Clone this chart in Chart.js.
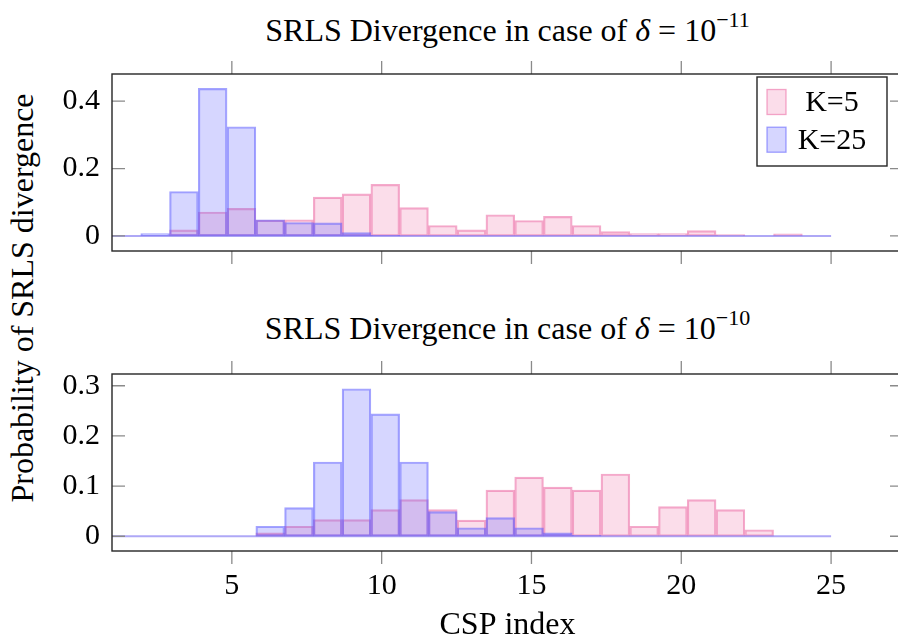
<!DOCTYPE html>
<html>
<head>
<meta charset="utf-8">
<script src="https://cdn.jsdelivr.net/npm/chart.js@4.4.1/dist/chart.umd.min.js"></script>
<style>
  html, body { margin: 0; padding: 0; background: #fff; overflow: hidden; }
  #wrap { position: relative; width: 898px; height: 642px; overflow: hidden;
          font-family: 'Liberation Serif', 'Times New Roman', 'DejaVu Serif', serif; color: #000; }
  .ttl { position: absolute; left: 112px; width: 791px; text-align: center;
         font-size: 32px; line-height: 36px; white-space: nowrap; }
  .ttl sup { font-size: 22px; vertical-align: 0; position: relative; top: -14px; }
  #ylab { position: absolute; left: 22px; top: 298px; font-size: 32px; white-space: nowrap;
          transform: translate(-50%, -50%) rotate(-90deg); }
  canvas { position: absolute; left: 0; }
</style>
</head>
<body>
<div id="wrap">
  <div class="ttl" style="top:12px">SRLS Divergence in case of <i>δ</i> = 10<sup>−11</sup></div>
  <div class="ttl" style="top:310px">SRLS Divergence in case of <i>δ</i> = 10<sup>−10</sup></div>
  <div id="ylab">Probability of SRLS divergence</div>
  <canvas id="topChart" width="910" height="281" style="top:0"></canvas>
  <canvas id="botChart" width="910" height="342" style="top:300px"></canvas>
</div>
<script>
// histogram bins (25 bins over [1, 25])
const histMin = 1;
const histMax = 25;
const binCenters = [1.48, 2.44, 3.40, 4.36, 5.32, 6.28, 7.24, 8.20, 9.16, 10.12, 11.08, 12.04, 13.00,
                    13.96, 14.92, 15.88, 16.84, 17.80, 18.76, 19.72, 20.68, 21.64, 22.60, 23.56, 24.52];

// delta = 1e-11
const k5Top  = [0, 0, 0.018, 0.071, 0.082, 0.047, 0.048, 0.115, 0.125, 0.153, 0.084, 0.031, 0.018,
                0.063, 0.046, 0.058, 0.031, 0.013, 0.007, 0.007, 0.016, 0.004, 0, 0.006, 0];
const k25Top = [0, 0.007, 0.132, 0.438, 0.324, 0.048, 0.040, 0.039, 0.010, 0.003, 0, 0, 0,
                0, 0, 0, 0, 0, 0, 0, 0, 0, 0, 0, 0];

// delta = 1e-10
const k5Bot  = [0, 0, 0, 0, 0, 0.007, 0.020, 0.033, 0.033, 0.053, 0.073, 0.053, 0.032,
                0.092, 0.118, 0.098, 0.092, 0.124, 0.020, 0.059, 0.073, 0.053, 0.013, 0, 0];
const k25Bot = [0, 0, 0, 0, 0, 0.020, 0.057, 0.148, 0.294, 0.244, 0.148, 0.049, 0.017,
                0.037, 0.017, 0.007, 0.002, 0, 0, 0, 0, 0, 0, 0, 0];

const xTicks = [5, 10, 15, 20, 25];
const yTicksTop = [0, 0.2, 0.4];
const yTicksBot = [0, 0.1, 0.2, 0.3];
const seriesLabels = ['K=5', 'K=25'];

const FONT = { family: "'Liberation Serif', 'Times New Roman', 'DejaVu Serif', serif", size: 30 };
const pinkFill = 'rgba(235,100,160,0.22)', pinkLine = 'rgba(235,100,160,0.55)';
const blueFill = 'rgba(90,90,255,0.25)',  blueLine = 'rgba(90,90,255,0.55)';

// box round the plot, inward y ticks, outward x ticks
const framePlugin = {
    id: 'frame',
    afterDatasetsDraw(chart) {
        const { ctx, chartArea: a, scales: { x, y } } = chart;
        ctx.save();
        ctx.strokeStyle = '#8a8a8a';
        ctx.lineWidth = 1.3;
        ctx.beginPath();
        y.ticks.forEach(t => {
            const py = y.getPixelForValue(t.value);
            ctx.moveTo(a.left, py);  ctx.lineTo(a.left + 13, py);
            ctx.moveTo(a.right, py); ctx.lineTo(a.right - 13, py);
        });
        x.ticks.forEach(t => {
            const px = x.getPixelForValue(t.value);
            ctx.moveTo(px, a.top);    ctx.lineTo(px, a.top - 13);
            ctx.moveTo(px, a.bottom); ctx.lineTo(px, a.bottom + 13);
        });
        ctx.stroke();
        ctx.strokeStyle = '#262626';
        ctx.lineWidth = 1.4;
        ctx.strokeRect(a.left, a.top, a.right - a.left, a.bottom - a.top);
        ctx.restore();
    }
};

// framed legend in the top right corner
const legendBox = {
    id: 'legendBox',
    afterDraw(chart, args, opts) {
        if (!opts.show) return;
        const { ctx, chartArea: a } = chart;
        const items = chart.data.datasets.filter(d => d.label);
        const w = 130, h = 89;
        const x0 = a.right - 16 - w, y0 = a.top + 3;
        ctx.save();
        ctx.fillStyle = '#fff';
        ctx.fillRect(x0, y0, w, h);
        ctx.strokeStyle = '#262626';
        ctx.lineWidth = 1.4;
        ctx.strokeRect(x0, y0, w, h);
        items.forEach((d, i) => {
            const cy = y0 + 25 + i * 37.7;
            ctx.fillStyle = d.backgroundColor;
            ctx.fillRect(x0 + 10, cy - 12.5, 19, 25);
            ctx.strokeStyle = d.borderColor;
            ctx.lineWidth = 1.3;
            ctx.strokeRect(x0 + 10, cy - 12.5, 19, 25);
            ctx.fillStyle = '#000';
            ctx.font = `${FONT.size}px ${FONT.family}`;
            ctx.textAlign = 'center';
            ctx.textBaseline = 'middle';
            ctx.fillText(d.label, x0 + 75, cy + 1);
        });
        ctx.restore();
    }
};

function barSet(label, vals, fill, line, order) {
    return {
        type: 'bar',
        label: label,
        data: binCenters.map((c, i) => ({ x: c, y: vals[i] })),
        backgroundColor: fill,
        borderColor: line,
        borderWidth: 1.5,
        borderSkipped: false,
        barPercentage: 1,
        categoryPercentage: 1,
        grouped: false,
        order: order
    };
}

function makeChart(id, k5, k25, yMin, yMax, yTicks, bottom) {
    return new Chart(document.getElementById(id), {
        type: 'bar',
        data: {
            datasets: [
                barSet(seriesLabels[0], k5, pinkFill, pinkLine, 3),
                barSet(seriesLabels[1], k25, blueFill, blueLine, 2),
                {
                    type: 'line',
                    data: [{ x: histMin, y: 0 }, { x: histMax, y: 0 }],
                    borderColor: 'rgba(120,110,240,0.6)',
                    borderWidth: 2,
                    pointRadius: 0,
                    order: 1
                }
            ]
        },
        options: {
            responsive: false,
            animation: false,
            layout: { padding: { top: 74, right: 7, left: 0, bottom: 0 } },
            plugins: {
                legend: { display: false },
                tooltip: { enabled: false },
                legendBox: { show: !bottom }
            },
            scales: {
                x: {
                    type: 'linear',
                    min: 1, max: 27.4,
                    offset: false,
                    grid: { display: false, drawTicks: false },
                    border: { display: false },
                    afterBuildTicks: s => { s.ticks = xTicks.map(v => ({ value: v })); },
                    afterFit: s => { s.height = bottom ? 91 : 30; },
                    ticks: { display: bottom, color: '#000', font: FONT, padding: 17, maxRotation: 0 },
                    title: {
                        display: bottom, text: 'CSP index', color: '#000',
                        font: { ...FONT, size: 32, lineHeight: 1 }, padding: 0
                    }
                },
                y: {
                    min: yMin, max: yMax,
                    grid: { display: false, drawTicks: false },
                    border: { display: false },
                    afterBuildTicks: s => { s.ticks = yTicks.map(v => ({ value: v })); },
                    afterFit: s => { s.width = 112; },
                    ticks: { color: '#000', font: FONT, padding: 12 }
                }
            }
        },
        plugins: [framePlugin, legendBox]
    });
}

makeChart('topChart', k5Top, k25Top, -0.0446, 0.4805, yTicksTop, false);
makeChart('botChart', k5Bot, k25Bot, -0.0294, 0.3234, yTicksBot, true);
</script>
</body>
</html>
